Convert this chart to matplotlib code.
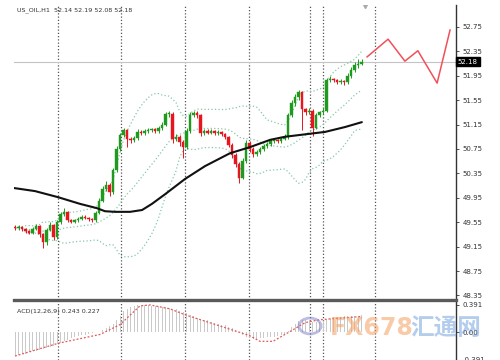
import matplotlib
matplotlib.use("Agg")
import matplotlib.pyplot as plt
import matplotlib.transforms as mtransforms
from matplotlib.patches import Circle
import numpy as np
import pandas as pd

# ---------------- data ----------------
title_text = "US_OIL,H1  52.14 52.19 52.08 52.18"
macd_label = "ACD(12,26,9) 0.243 0.227"
first_open = 49.47
closes = [49.45,49.47,49.44,49.40,49.38,49.44,49.48,49.35,49.22,49.42,
          49.50,49.30,49.55,49.68,49.72,49.58,49.56,49.58,49.61,49.64,
          49.62,49.60,49.58,49.70,49.90,50.10,50.16,50.05,50.40,50.75,
          50.98,51.06,50.92,50.90,50.93,51.03,51.01,51.04,51.06,51.07,
          51.05,51.09,51.15,51.32,51.33,50.92,50.95,50.86,50.78,51.05,
          51.31,51.34,51.30,51.02,51.05,51.02,51.04,51.01,51.03,51.00,
          50.95,50.82,50.65,50.50,50.28,50.55,50.85,50.75,50.66,50.70,
          50.75,50.80,50.83,50.88,50.90,50.88,50.92,50.95,51.30,51.50,
          51.60,51.68,51.40,51.35,51.38,51.10,51.30,51.35,51.38,51.88,
          51.90,51.88,51.85,51.86,51.84,51.95,52.05,52.12,52.15,52.18]
highs = [49.50,49.50,49.49,49.46,49.43,49.47,49.52,49.50,49.38,49.46,
         49.56,49.52,49.58,49.72,49.78,49.74,49.60,49.61,49.64,49.67,
         49.66,49.64,49.62,49.73,49.94,50.14,50.22,50.20,50.44,50.80,
         51.02,51.10,51.08,50.95,50.97,51.07,51.06,51.07,51.09,51.10,
         51.09,51.12,51.20,51.36,51.38,51.36,51.00,50.98,50.90,51.10,
         51.36,51.38,51.37,51.33,51.08,51.07,51.07,51.06,51.06,51.05,
         51.02,50.97,50.85,50.68,50.53,50.60,50.90,50.88,50.78,50.73,
         50.78,50.83,50.86,50.91,50.93,50.92,50.95,50.99,51.34,51.55,
         51.65,51.72,51.70,51.43,51.42,51.40,51.34,51.38,51.42,51.92,
         51.94,51.92,51.90,51.89,51.88,51.99,52.10,52.18,52.22,52.22]
lows = [49.42,49.43,49.41,49.37,49.35,49.36,49.42,49.30,49.13,49.18,
        49.40,49.26,49.28,49.52,49.65,49.55,49.53,49.54,49.56,49.59,
        49.60,49.57,49.55,49.56,49.68,49.88,50.06,49.98,50.02,50.38,
        50.72,50.95,50.78,50.85,50.87,50.90,50.98,50.98,51.01,51.03,
        51.02,51.02,51.06,51.12,51.28,50.85,50.88,50.80,50.60,50.75,
        51.02,51.28,51.26,50.96,50.98,50.99,50.99,50.98,50.98,50.97,
        50.92,50.78,50.60,50.45,50.20,50.25,50.52,50.70,50.62,50.63,
        50.67,50.72,50.77,50.80,50.85,50.85,50.85,50.89,50.92,51.27,
        51.46,51.56,51.06,51.30,51.32,50.97,51.08,51.27,51.32,51.35,
        51.85,51.84,51.82,51.82,51.80,51.81,51.92,52.02,52.08,52.12]

ma_idx = [-0.3, 5.7, 12.3, 18.6, 23.4, 25.7, 28.6, 32.9, 36.3, 39.1, 42.9, 48.6,
          54.3, 61.4, 67.1, 72.9, 77.1, 81.4, 85.7, 88.6, 94.3, 99.1]
ma_vals = [50.11, 50.06, 49.96, 49.85, 49.78, 49.73, 49.72, 49.72, 49.75, 49.85, 50.01, 50.26,
           50.47, 50.68, 50.78, 50.90, 50.95, 50.98, 51.01, 51.03, 51.11, 51.19]

fc_idx = [100.6, 106.6, 111.4, 115.1, 120.6, 124.3]
fc_vals = [52.26, 52.55, 52.19, 52.36, 51.83, 52.70]

vline_idx = [12.3, 30.3, 48.6, 66.9, 84.3, 88.0, 102.9]
last_price = 52.18
price_ticks = [52.75, 52.35, 51.95, 51.55, 51.15, 50.75, 50.35, 49.95, 49.55, 49.15, 48.75, 48.35]

macd_hist = [-0.33,-0.32,-0.31,-0.30,-0.28,-0.27,-0.26,-0.25,-0.24,-0.22,
             -0.21,-0.19,-0.17,-0.15,-0.12,-0.10,-0.08,-0.06,-0.05,-0.04,
             -0.03,-0.02,-0.01,0.00,0.01,0.03,0.06,0.09,0.12,0.17,
             0.24,0.30,0.34,0.36,0.38,0.39,0.39,0.39,0.39,0.38,
             0.37,0.37,0.36,0.36,0.35,0.34,0.33,0.31,0.29,0.27,
             0.25,0.23,0.21,0.19,0.18,0.17,0.15,0.13,0.12,0.11,
             0.10,0.08,0.06,0.03,0.00,-0.03,-0.06,-0.08,-0.09,-0.09,
             -0.08,-0.08,-0.07,-0.06,-0.06,-0.05,-0.04,-0.02,0.02,0.08,
             0.12,0.16,0.18,0.18,0.18,0.15,0.15,0.15,0.16,0.19,
             0.21,0.22,0.22,0.22,0.23,0.23,0.24,0.24,0.24,0.243]
sig_idx = [0.0, 12.3, 24.3, 30.0, 35.7, 38.6, 44.3, 48.6, 66.9, 70.0, 73.7, 78.6, 82.9, 87.1, 99.1]
sig_vals = [-0.335, -0.154, -0.028, 0.112, 0.377, 0.391, 0.335, 0.251, -0.042, -0.126, -0.126, 0.014, 0.140, 0.181, 0.227]
macd_ticks = [0.391, 0.0, -0.391]
macd_tick_labels = ["0.391", "0.00", "-0.391"]

# ---------------- figure ----------------
W, H = 500, 360
fig = plt.figure(figsize=(W / 100, H / 100), dpi=100)
fig.patch.set_facecolor("white")
L, R = 14, 456
ax = fig.add_axes([L / W, (H - 300) / H, (R - L) / W, (300 - 5) / H])
axm = fig.add_axes([L / W, 0, (R - L) / W, 60 / H])

xlim = (-0.3, 126.0)
for a in (ax, axm):
    a.set_xlim(*xlim)
    a.set_facecolor("none")
    for s in ("left", "top", "bottom"):
        a.spines[s].set_visible(False)
    a.spines["right"].set_color("#333333")
    a.spines["right"].set_linewidth(1.0)
    a.tick_params(axis="x", bottom=False, labelbottom=False)
    a.yaxis.tick_right()
    a.tick_params(axis="y", length=2, width=0.6, colors="#333333", labelsize=5, pad=3)

ax.set_ylim(48.275, 53.11)
axm.set_ylim(-0.377, 0.461)

# vertical dotted lines
for a in (ax, axm):
    for v in vline_idx:
        a.axvline(v, color="#555555", lw=0.9, ls=(0, (1, 1.6)), zorder=1)

# last price line
ax.axhline(last_price, color="#c4c4c4", lw=0.8, zorder=1)

# Bollinger bands derived from the closes
cs = pd.Series(closes)
mid = cs.rolling(20, min_periods=1).mean()
sd = cs.rolling(20, min_periods=1).std(ddof=0)
idx = np.arange(len(closes))
bb_col = "#86c9a6"
for band in (mid, mid + 2 * sd, mid - 2 * sd):
    ax.plot(idx, band, color=bb_col, lw=0.9, ls=(0, (1, 1.8)), zorder=2)

# moving average
ax.plot(ma_idx, ma_vals, color="#111111", lw=1.5, zorder=4,
        solid_capstyle="round", solid_joinstyle="round")

# candles
opens = [first_open] + closes[:-1]
up_col, dn_col = "#1f9a1f", "#e8141e"
for i, (o, h, l, c) in enumerate(zip(opens, highs, lows, closes)):
    col = up_col if c >= o else dn_col
    ax.vlines(i, l, h, color=col, lw=0.7, zorder=3)
    lo, hi = min(o, c), max(o, c)
    ax.bar(i, max(hi - lo, 0.012), bottom=lo, width=0.62, color=col, edgecolor=col, lw=0.3, zorder=3)

# forecast line
ax.plot(fc_idx, fc_vals, color="#f0505a", lw=1.1, zorder=4)
ax.plot([100.0], [53.09], marker="v", color="#aaaaaa", ms=3, zorder=4)

ax.set_yticks(price_ticks)
ax.set_yticklabels([f"{t:.2f}" for t in price_ticks])

# price box
trans = mtransforms.blended_transform_factory(ax.transAxes, ax.transData)
ax.text(1.004, last_price, f"{last_price:.2f}", transform=trans, fontsize=5, color="white",
        va="center", ha="left", zorder=6,
        bbox=dict(boxstyle="square,pad=0.25", fc="black", ec="black"))

# MACD panel
axm.bar(idx, macd_hist, width=0.28, color="#c9c9c9", zorder=2)
axm.plot(sig_idx, sig_vals, color="#e05a5a", lw=0.9, ls=(0, (1.5, 1.5)), zorder=3)
axm.set_yticks(macd_ticks)
axm.set_yticklabels(macd_tick_labels)
axm.text(0.5, 0.30, macd_label, fontsize=4.6, color="#333333", va="center", ha="left", zorder=5)

# separator line
fig.add_artist(plt.Line2D([L / W, R / W], [(H - 300) / H] * 2, color="#5a5a5a", lw=2.4))

# title
fig.text(17 / W, 1 - 10 / H, title_text, fontsize=4.6, color="#333333", va="center", ha="left")

# watermark
fig.text(330 / W, (H - 328) / H, "FX678", fontsize=17, color="#f4a060", alpha=0.55,
         va="center", ha="left", fontweight="bold")
fig.text(410 / W, (H - 328) / H, "汇通网", fontsize=17, color="#5a90d8", alpha=0.45,
         va="center", ha="left", family=["Noto Sans CJK SC", "DejaVu Sans"], fontweight="bold")
circ = Circle((310 / W, (H - 326) / H), 11 / W, transform=fig.transFigure, fill=False,
              ec="#7c7cc8", lw=2.0, alpha=0.5)
fig.add_artist(circ)

fig.savefig("out.png", dpi=100, facecolor="white")
